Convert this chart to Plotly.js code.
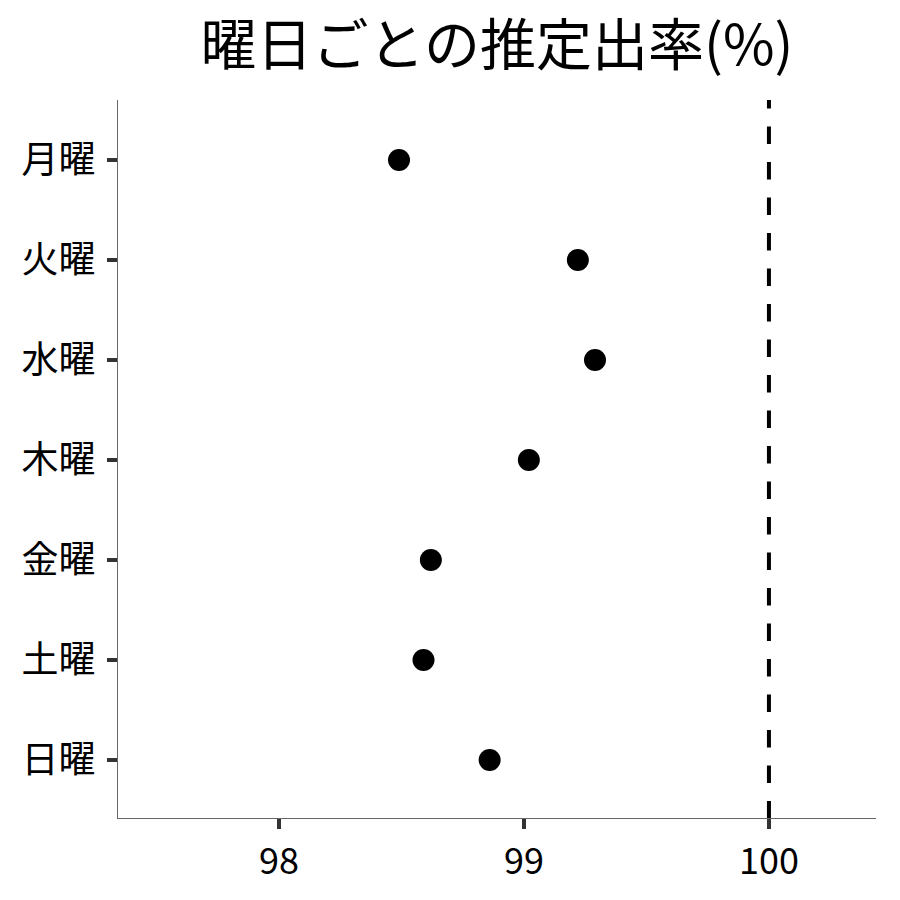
<!DOCTYPE html>
<html>
<head>
<meta charset="utf-8">
<script src="https://cdn.plot.ly/plotly-3.0.1.min.js"></script>
<style>
  html, body { margin: 0; padding: 0; background: #fff; }
  #chart { width: 900px; height: 900px; }
</style>
</head>
<body>
<div id="chart"></div>
<script>
  // Weekday labels, top to bottom
  var days = ["月曜", "火曜", "水曜", "木曜", "金曜", "土曜", "日曜"];
  // Estimated attendance rate (%)
  var rates = [98.49, 99.22, 99.29, 99.02, 98.62, 98.59, 98.86];
  var refLine = 100;
  var xTicks = [98, 99, 100];

  var FONT = "'Noto Sans CJK JP', 'Noto Sans', sans-serif";

  var trace = {
    type: "scatter",
    mode: "markers",
    x: rates,
    y: days,
    marker: { color: "#000000", size: 22 },
    hoverinfo: "x+y"
  };

  var layout = {
    width: 900,
    height: 900,
    paper_bgcolor: "#ffffff",
    plot_bgcolor: "#ffffff",
    font: { family: FONT, color: "#000000" },
    showlegend: false,
    title: {
      text: "曜日ごとの推定出率(%)",
      font: { family: FONT, size: 56, color: "#000000" },
      xref: "paper",
      x: 0.5,
      xanchor: "center",
      y: 0.95,
      yanchor: "middle"
    },
    margin: { l: 118, r: 24, t: 100, b: 82 },
    xaxis: {
      range: [97.343, 100.437],
      tickvals: xTicks,
      ticktext: xTicks.map(String),
      showgrid: false,
      zeroline: false,
      showline: true,
      linecolor: "#666666",
      linewidth: 1.3,
      ticks: "outside",
      ticklen: 10,
      tickwidth: 3.5,
      tickcolor: "#333333",
      ticklabelstandoff: 2,
      tickfont: { family: FONT, size: 36, color: "#000000" }
    },
    yaxis: {
      type: "category",
      categoryorder: "array",
      categoryarray: days,
      autorange: false,
      range: [6.58, -0.6],
      showgrid: false,
      zeroline: false,
      showline: true,
      linecolor: "#666666",
      linewidth: 1.3,
      ticks: "outside",
      ticklen: 10,
      tickwidth: 3.5,
      tickcolor: "#333333",
      ticklabelstandoff: 4,
      tickfont: { family: FONT, size: 37, color: "#000000" }
    },
    // reference line spans the whole panel; starts a bit above it so the
    // dash pattern is cut at the top edge
    shapes: [{
      type: "line",
      xref: "x",
      yref: "y",
      x0: refLine,
      x1: refLine,
      y0: -0.69,
      y1: 6.58,
      line: { color: "#000000", width: 4, dash: "17.5px,18px" },
      layer: "below"
    }]
  };

  Plotly.newPlot("chart", [trace], layout, { displayModeBar: false, responsive: false });
</script>
</body>
</html>
